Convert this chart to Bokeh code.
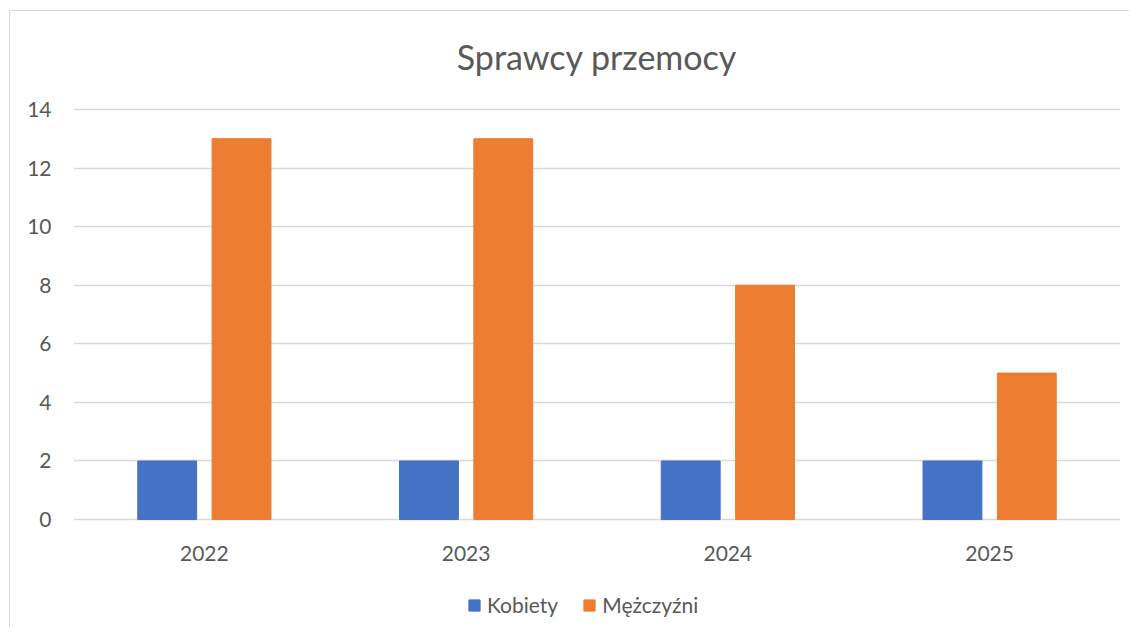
from bokeh.plotting import figure
from bokeh.models import FactorRange, FixedTicker, Legend, LegendItem, Range1d, Title, Column
from bokeh.transform import dodge
from bokeh.embed import file_html
from bokeh.resources import INLINE
from bokeh.models import ColumnDataSource

years = ["2022", "2023", "2024", "2025"]
kobiety = [2, 2, 2, 2]
mezczyzni = [13, 13, 8, 5]
series_names = ["Kobiety", "Mężczyźni"]
y_ticks = [0, 2, 4, 6, 8, 10, 12, 14]

FONT = "Lato"
GREY = "#595959"
BLUE = "#4472C4"
ORANGE = "#ED7D31"

src = ColumnDataSource(dict(year=years, k=kobiety, m=mezczyzni))

p = figure(x_range=FactorRange(*years, range_padding=0), y_range=Range1d(-0.1, 14.1),
           frame_width=1047, frame_height=416,
           min_border_left=63, min_border_right=9, min_border_top=0, min_border_bottom=60,
           output_backend="svg", toolbar_location=None,
           title="Sprawcy przemocy")
p.outline_line_color = None

p.title.align = "center"
p.title.text_font = FONT
p.title.text_font_size = "34px"
p.title.text_font_style = "normal"
p.title.text_color = GREY
p.title.standoff = 44
# thin spacer between title and plot area
p.add_layout(Title(text=" ", text_font_size="2px", standoff=4), "above")

r1 = p.vbar(x=dodge("year", -0.142, range=p.x_range), top="k", width=0.225, source=src,
            fill_color=BLUE, line_color=BLUE)
r2 = p.vbar(x=dodge("year", 0.142, range=p.x_range), top="m", width=0.225, source=src,
            fill_color=ORANGE, line_color=ORANGE)

p.xgrid.grid_line_color = None
p.ygrid.grid_line_color = "#d9d9d9"
p.ygrid.grid_line_width = 1.5
p.ygrid.ticker = FixedTicker(ticks=y_ticks)

p.yaxis.ticker = FixedTicker(ticks=y_ticks)
for ax in (p.xaxis, p.yaxis):
    ax.axis_line_color = None
    ax.major_tick_line_color = None
    ax.minor_tick_line_color = None
    ax.major_label_text_font = FONT
    ax.major_label_text_font_size = "21px"
    ax.major_label_text_color = GREY
p.yaxis.major_label_standoff = 16
p.xaxis.major_label_standoff = 17

# legend strip below the chart (its bars lie outside the visible range)
lf = figure(width=1119, height=45, x_range=FactorRange(*years), y_range=(100, 101),
            min_border=0, min_border_left=0, min_border_right=0, min_border_top=0,
            min_border_bottom=0, x_axis_location=None, y_axis_location=None,
            output_backend="svg", toolbar_location=None)
lf.grid.visible = False
lf.outline_line_color = None
lr1 = lf.vbar(x="year", top="k", width=0.2, source=src, fill_color=BLUE, line_color=BLUE)
lr2 = lf.vbar(x="year", top="m", width=0.2, source=src, fill_color=ORANGE, line_color=ORANGE)
legend = Legend(items=[LegendItem(label=series_names[0], renderers=[lr1]),
                       LegendItem(label=series_names[1], renderers=[lr2])],
                orientation="horizontal", location=(394, 10),
                label_text_font=FONT, label_text_font_size="21px", label_text_color=GREY,
                glyph_width=14, glyph_height=14, spacing=24, label_standoff=6,
                border_line_color=None, background_fill_alpha=0, margin=0, padding=0)
lf.add_layout(legend, "center")

layout = Column(p, lf, spacing=0)
layout.margin = (10, 0, 0, 9)
layout.styles = {"border-top": "1px solid #d9d9d9", "border-left": "1px solid #d9d9d9"}

open("out.html", "w").write(file_html(layout, INLINE))
